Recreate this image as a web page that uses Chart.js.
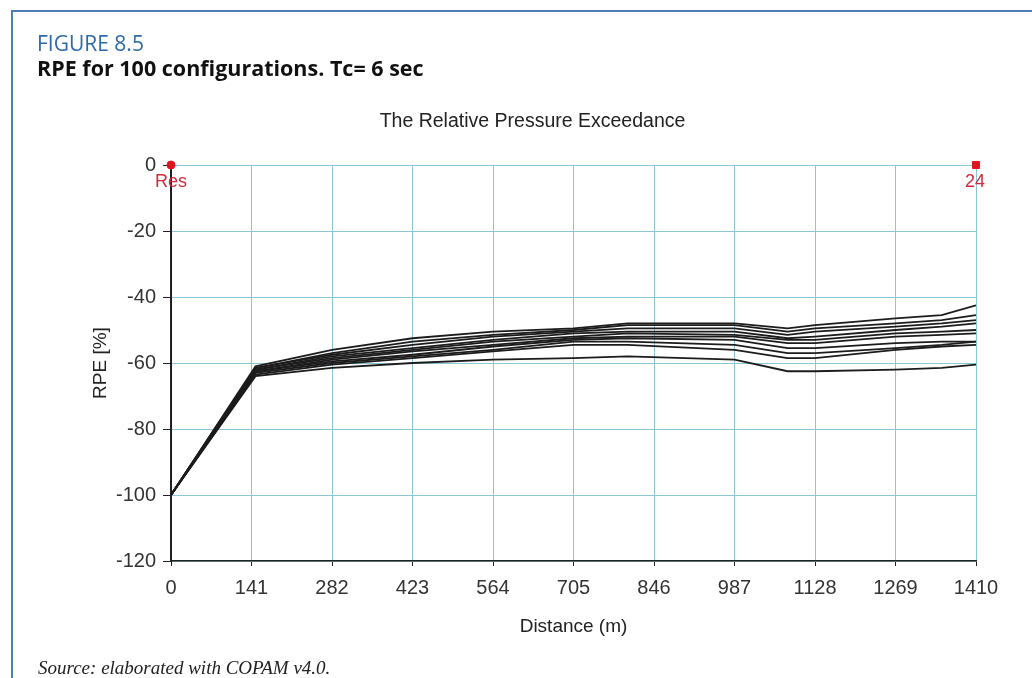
<!DOCTYPE html>
<html><head><meta charset="utf-8">
<script src="https://cdn.jsdelivr.net/npm/chart.js@4.4.0/dist/chart.umd.min.js"></script>
<style>
html,body{margin:0;padding:0;background:#fff;}
body{width:1032px;height:678px;position:relative;overflow:hidden;}
#frameTop{position:absolute;left:11px;top:10px;width:1021px;height:2px;background:#4f7fb8;}
#frameLeft{position:absolute;left:11px;top:10px;width:2px;height:668px;background:#4f7fb8;}
#fig{position:absolute;left:37px;top:33px;font:21px/1 "Open Sans";color:#2f6aa8;white-space:nowrap;}
#cap{position:absolute;left:37px;top:57px;font:bold 21.5px/1 "Open Sans";color:#111;white-space:nowrap;}
#src{position:absolute;left:38px;top:658px;font:italic 19px/1 "Liberation Serif";color:#222;white-space:nowrap;}
#c{position:absolute;left:0;top:0;}
</style></head><body>
<canvas id="c" width="1032" height="678"></canvas>
<div id="frameTop"></div><div id="frameLeft"></div>
<div id="fig">FIGURE 8.5</div>
<div id="cap">RPE for 100 configurations. Tc= 6 sec</div>
<div id="src">Source: elaborated with COPAM v4.0.</div>
<script>
const distances = [0, 0, 148, 282, 423, 564, 705, 800, 987, 1080, 1128, 1269, 1350, 1410];
const s1  = [0,-100,-61.0,-56.0,-52.5,-50.5,-49.5,-48.0,-48.0,-49.5,-48.5,-46.5,-45.5,-42.5];
const s2  = [0,-100,-61.5,-57.0,-53.5,-51.5,-50.0,-48.5,-48.5,-50.5,-49.5,-48.0,-47.0,-45.5];
const s3  = [0,-100,-61.5,-57.5,-54.5,-52.0,-50.5,-49.5,-49.5,-51.5,-50.5,-49.0,-48.0,-47.0];
const s4  = [0,-100,-62.0,-58.0,-55.5,-53.0,-51.0,-50.5,-50.5,-52.5,-52.0,-50.0,-49.0,-48.0];
const s5  = [0,-100,-62.0,-58.5,-56.0,-53.5,-52.0,-51.0,-51.5,-53.0,-53.0,-51.0,-50.5,-50.0];
const s6  = [0,-100,-62.5,-59.0,-56.5,-54.5,-52.5,-52.0,-52.0,-54.0,-54.0,-52.0,-51.5,-51.0];
const s7  = [0,-100,-62.5,-59.5,-57.5,-55.0,-53.0,-52.5,-53.0,-55.5,-55.5,-54.0,-53.5,-53.5];
const s8  = [0,-100,-63.0,-60.0,-58.0,-56.0,-53.5,-53.5,-54.5,-57.0,-57.0,-55.5,-54.5,-53.5];
const s9  = [0,-100,-63.5,-60.5,-58.5,-56.5,-54.5,-54.5,-56.0,-58.5,-58.5,-56.0,-55.0,-54.5];
const s10 = [0,-100,-64.0,-61.5,-60.0,-59.0,-58.5,-58.0,-59.0,-62.5,-62.5,-62.0,-61.5,-60.5];
const seriesList = [s1, s2, s3, s4, s5, s6, s7, s8, s9, s10];
const markerX = [0, 1410];
const markerY = [0, 0];
const markerLabels = ['Res', '24'];
const xTicks = [0, 141, 282, 423, 564, 705, 846, 987, 1128, 1269, 1410];
const yTicks = [-120, -100, -80, -60, -40, -20, 0];

const GRID = '#8cc6d8';
const FONT = '"Liberation Sans", Arial, sans-serif';

const lineSets = seriesList.map((s, i) => ({
  label: 'Config ' + (i + 1),
  data: distances.map((d, k) => ({x: d, y: s[k]})),
  borderColor: '#1c1c1c',
  borderWidth: 1.8,
  pointRadius: 0,
  tension: 0,
  fill: false,
  order: 1
}));

const markerSet = {
  label: 'nodes',
  data: markerX.map((x, i) => ({x: x, y: markerY[i]})),
  showLine: false,
  pointStyle: ['circle', 'rect'],
  pointRadius: [4, 5],
  pointBackgroundColor: '#e0141e',
  pointBorderColor: '#e0141e',
  clip: false,
  order: 0
};

const markerLabelPlugin = {
  id: 'markerLabels',
  afterDatasetsDraw(chart) {
    const meta = chart.getDatasetMeta(0);
    const ctx = chart.ctx;
    ctx.save();
    ctx.font = '18px ' + FONT;
    ctx.fillStyle = '#d42a3c';
    ctx.textAlign = 'center';
    ctx.textBaseline = 'middle';
    meta.data.forEach((pt, i) => {
      ctx.fillText(markerLabels[i], pt.x + (i === 0 ? 0 : -1), pt.y + 17);
    });
    ctx.restore();
  }
};

new Chart(document.getElementById('c'), {
  type: 'line',
  data: { datasets: [markerSet, ...lineSets] },
  options: {
    responsive: false,
    animation: false,
    events: [],
    layout: { padding: { left: 89, right: 56, top: 0, bottom: 0 } },
    plugins: {
      legend: { display: false },
      tooltip: { enabled: false },
      title: {
        display: true,
        text: 'The Relative Pressure Exceedance',
        color: '#222',
        font: { family: FONT, size: 19.5, weight: 'normal', lineHeight: 1.2 },
        padding: { top: 110, bottom: 31.6 }
      }
    },
    scales: {
      x: {
        type: 'linear',
        min: 0, max: 1410,
        afterBuildTicks: (s) => { s.ticks = xTicks.map(v => ({value: v})); },
        afterFit: (s) => { s.height = 117; },
        ticks: { color: '#333', font: { family: FONT, size: 20 }, padding: 10, maxRotation: 0, autoSkip: false,
                 callback: (v) => String(v) },
        grid: { color: GRID, lineWidth: 1, tickColor: '#222', tickLength: 5 },
        border: { display: true, color: '#222', width: 1.5 },
        title: { display: true, text: 'Distance (m)', color: '#222', font: { family: FONT, size: 19, lineHeight: 1.2 }, padding: { top: 0, bottom: 40 } }
      },
      y: {
        type: 'linear',
        min: -120, max: 0,
        afterBuildTicks: (s) => { s.ticks = yTicks.map(v => ({value: v})); },
        afterFit: (s) => { s.width = 82; },
        ticks: { color: '#333', font: { family: FONT, size: 20 }, padding: 7, callback: (v) => String(v) },
        grid: { color: GRID, lineWidth: 1, tickColor: '#222', tickLength: 8 },
        border: { display: true, color: '#222', width: 2 },
        title: { display: true, text: 'RPE [%]', color: '#222', font: { family: FONT, size: 19, lineHeight: 1.2 }, padding: { top: 0, bottom: 0 } }
      }
    }
  },
  plugins: [markerLabelPlugin]
});
</script>
</body></html>
